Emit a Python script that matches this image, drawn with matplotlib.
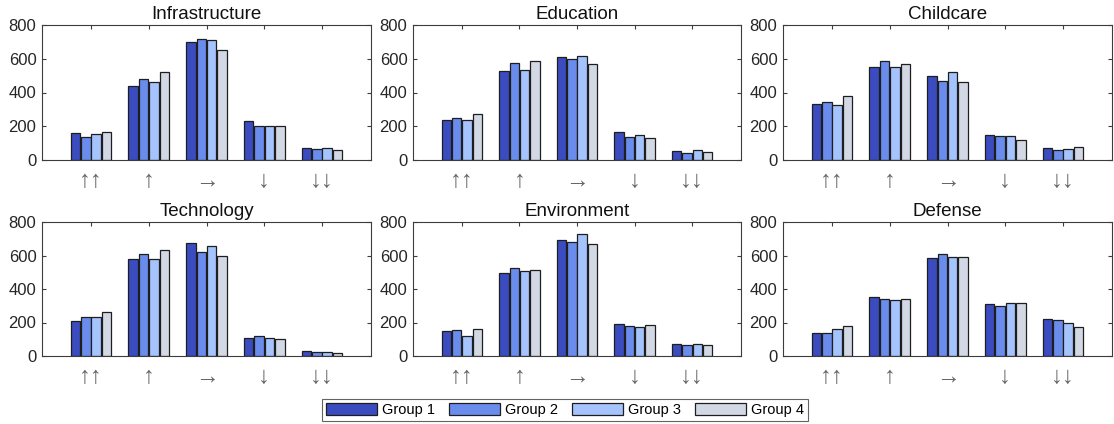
import numpy as np
import matplotlib.pyplot as plt
from matplotlib.patches import Patch

plt.rcParams['font.family'] = ['Liberation Sans', 'DejaVu Sans']

# trend categories on the x axis
trends = ['↑↑', '↑', '→', '↓', '↓↓']
groups = ['Group 1', 'Group 2', 'Group 3', 'Group 4']
colors = ['#3a4cc0', '#6a8ced', '#a5c3fd', '#d3d9e4']

# counts per sector: one row per trend, one column per group
infrastructure = [[160, 134, 154, 164],
                  [438, 481, 465, 522],
                  [701, 718, 714, 653],
                  [229, 204, 199, 200],
                  [73, 63, 70, 62]]
education = [[240, 248, 236, 270],
             [528, 573, 536, 586],
             [610, 600, 619, 567],
             [168, 137, 151, 131],
             [51, 44, 60, 48]]
childcare = [[333, 341, 325, 379],
             [549, 584, 549, 566],
             [500, 471, 519, 461],
             [147, 141, 141, 120],
             [69, 61, 65, 75]]
technology = [[208, 231, 231, 262],
              [581, 607, 580, 631],
              [673, 619, 659, 595],
              [107, 118, 107, 100],
              [30, 25, 21, 15]]
environment = [[150, 156, 121, 164],
               [496, 523, 506, 515],
               [690, 679, 730, 670],
               [190, 179, 173, 184],
               [72, 63, 69, 68]]
defense = [[137, 137, 161, 177],
           [350, 339, 333, 339],
           [585, 607, 589, 589],
           [310, 298, 319, 319],
           [220, 216, 195, 175]]

sectors = ['Infrastructure', 'Education', 'Childcare',
           'Technology', 'Environment', 'Defense']
values = [infrastructure, education, childcare,
          technology, environment, defense]

fig = plt.figure(figsize=(11.14, 4.24), dpi=100)
W, H = 1114, 424
# axes boxes in pixels: left, right, top, bottom
cols = [(42, 371), (413, 741), (783, 1112)]
rows = [(25, 160), (222, 356)]

x = np.arange(1, 6)
bw = 0.165
offsets = (np.arange(4) - 1.5) * 0.18
axis_col = '#3c3c3c'

for i, (name, data) in enumerate(zip(sectors, values)):
    l, r = cols[i % 3]
    t, b = rows[i // 3]
    ax = fig.add_axes([l / W, 1 - b / H, (r - l) / W, (b - t) / H])
    data = np.array(data)
    for g in range(4):
        ax.bar(x + offsets[g], data[:, g], width=bw, color=colors[g],
               edgecolor='#1e1e1e', linewidth=0.9, zorder=2)
    ax.set_xlim(0.15, 5.85)
    ax.set_ylim(0, 800)
    ax.set_yticks([0, 200, 400, 600, 800])
    ax.set_xticks(x)
    ax.set_xticklabels(trends, color='#666666', fontsize=17)
    ax.tick_params(axis='x', direction='in', top=True, length=3, pad=7,
                   color=axis_col)
    ax.tick_params(axis='y', direction='in', right=True, length=3,
                   labelsize=12, labelcolor='#262626', color=axis_col, pad=4)
    for s in ax.spines.values():
        s.set_color(axis_col)
        s.set_linewidth(0.8)
    ax.set_title(name, fontsize=13.5, color='#111111', pad=4)

handles = [Patch(facecolor=c, edgecolor='#1e1e1e', linewidth=0.9) for c in colors]
leg = fig.legend(handles, groups, loc='center', ncol=4,
                 bbox_to_anchor=(565 / W, 1 - 410 / H),
                 fontsize=10.5, frameon=True, fancybox=False,
                 handlelength=3.5, handleheight=0.9, handletextpad=0.35,
                 columnspacing=0.95, borderpad=0.3)
leg.get_frame().set_edgecolor('#3c3c3c')
leg.get_frame().set_linewidth(0.8)

fig.savefig('out.png', dpi=100)
